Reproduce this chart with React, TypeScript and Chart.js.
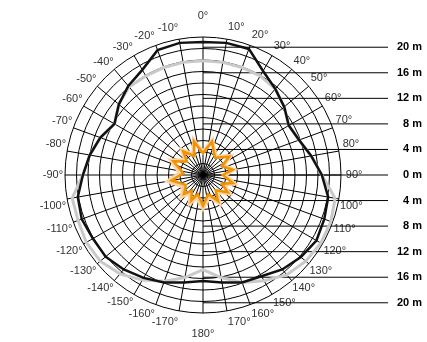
import React, { useEffect, useRef } from 'react';
import { Chart, registerables } from 'chart.js';

Chart.register(...registerables);

// ---- categories: directions every 5° (labels shown every 10°) ----
const ANGLE_STEP = 5;
const ANGLES: number[] = [];
for (let a = 0; a < 360; a += ANGLE_STEP) ANGLES.push(a > 180 ? a - 360 : a);
const ANGLE_LABELS = ANGLES.map((a) => `${a}°`);

// ---- series (metres) ----
const MAIN_ANGLES = [0, 10, 20, 30, 40, 50, 60, 70, 80, 90, 100, 110, 120, 130, 140, 150, 160, 170, 180,
  -170, -160, -150, -140, -130, -120, -110, -100, -90, -80, -70, -60, -50, -40, -30, -20, -10];
const BLACK_VALUES = [20.8, 21.0, 21.0, 18.8, 17.6, 16.6, 15.5, 16.0, 17.2, 18.6, 19.9, 20.2, 20.5, 20.0, 19.3, 18.3, 17.9, 17.1, 16.6,
  17.1, 17.9, 18.6, 19.3, 19.9, 19.9, 20.2, 19.9, 18.8, 18.0, 17.1, 16.0, 17.2, 18.2, 19.0, 20.8, 21.0];
const GRAY_VALUES = [17.9, 17.9, 17.9, 17.9, 17.6, 16.6, 15.5, 16.0, 17.2, 18.6, 21.0, 21.3, 21.3, 21.0, 20.4, 19.1, 17.9, 16.3, 14.8,
  16.3, 17.7, 19.0, 20.2, 21.0, 21.1, 20.8, 20.8, 18.8, 18.0, 17.1, 16.0, 17.2, 18.0, 17.9, 17.9, 17.9];

const STAR_ANGLES = [0, 15, 35, 55, 65, 80, 90, 105, 115, 125, 140, 150, 165, 180,
  -165, -155, -145, -135, -120, -100, -85, -65, -50, -40, -25, -15];
const ORANGE_VALUES = [3.4, 5.4, 3.3, 5.0, 3.3, 4.7, 3.1, 4.8, 3.3, 4.7, 3.1, 4.7, 3.1, 4.8,
  3.1, 4.4, 3.0, 4.2, 3.1, 5.0, 3.1, 5.1, 3.3, 4.8, 3.3, 5.4];
const PALE_ORANGE_VALUES = [3.6, 5.6, 3.5, 5.2, 3.5, 4.9, 3.4, 5.1, 3.6, 5.0, 3.5, 5.1, 3.5, 5.2,
  3.6, 4.9, 3.5, 4.7, 3.6, 5.5, 3.6, 5.5, 3.6, 5.1, 3.5, 5.6];

// ---- range scale on the right ----
const RANGE_VALUES = [20, 16, 12, 8, 4, 0, -4, -8, -12, -16, -20];
const RANGE_LABELS = ['20 m', '16 m', '12 m', '8 m', '4 m', '0 m', '4 m', '8 m', '12 m', '16 m', '20 m'];
const SCALE_MAX = 21.6;
const RING_STEP = 1.8;

// ---- layout ----
const W = 427;
const H = 342;
const CX = 203;
const CY = 176;
const R = 139;
const LINE_END_X = 388;
const LABEL_RIGHT_X = 422;
const LABEL_RADIUS_AXIS = 160;
const LABEL_RADIUS = 152.5;
const FONT = '"Liberation Sans", Arial, Helvetica, sans-serif';

function toSeries(angles: number[], values: number[]) {
  const arr: (number | null)[] = new Array(ANGLES.length).fill(null);
  angles.forEach((a, k) => {
    const idx = (((a % 360) + 360) % 360) / ANGLE_STEP;
    arr[idx] = values[k];
  });
  return arr;
}

function labelPadding(c: any) {
  const i = c.index;
  const deg = ANGLES[i];
  const a = (deg * Math.PI) / 180;
  const target = deg % 180 === 0 ? LABEL_RADIUS_AXIS : LABEL_RADIUS;
  const w = ANGLE_LABELS[i].length * 5.8;
  const h = 13.2;
  return Math.max(1, target - R - (w / 2) * Math.abs(Math.sin(a)) - (h / 2) * Math.abs(Math.cos(a)));
}

const rangePlugin = {
  id: 'rangeLines',
  beforeDatasetsDraw(chart: any) {
    const s = chart.scales.r;
    const ctx = chart.ctx;
    ctx.save();
    ctx.strokeStyle = '#000';
    ctx.lineWidth = 1;
    RANGE_VALUES.forEach((v) => {
      const y = s.yCenter - Math.sign(v) * s.getDistanceFromCenterForValue(Math.abs(v));
      ctx.beginPath();
      ctx.moveTo(s.xCenter, y);
      ctx.lineTo(LINE_END_X, y);
      ctx.stroke();
    });
    ctx.restore();
  },
  afterDraw(chart: any) {
    const s = chart.scales.r;
    const ctx = chart.ctx;
    ctx.save();
    ctx.fillStyle = '#000';
    ctx.font = `bold 11px ${FONT}`;
    ctx.textAlign = 'right';
    ctx.textBaseline = 'middle';
    RANGE_VALUES.forEach((v, i) => {
      const y = s.yCenter - Math.sign(v) * s.getDistanceFromCenterForValue(Math.abs(v));
      ctx.fillText(RANGE_LABELS[i], LABEL_RIGHT_X, y);
    });
    ctx.restore();
  },
};

export default function App() {
  const ref = useRef<HTMLCanvasElement | null>(null);

  useEffect(() => {
    if (!ref.current) return;
    const chart = new Chart(ref.current, {
      type: 'radar',
      data: {
        labels: ANGLE_LABELS,
        datasets: [
          {
            label: 'max',
            data: toSeries(MAIN_ANGLES, BLACK_VALUES),
            borderColor: '#111',
            borderWidth: 2.5,
            fill: false,
            spanGaps: true,
            order: 0,
          },
          {
            label: 'typ',
            data: toSeries(MAIN_ANGLES, GRAY_VALUES),
            borderColor: '#c9c9c9',
            borderWidth: 3,
            fill: false,
            spanGaps: true,
            order: 1,
          },
          {
            label: 'near',
            data: toSeries(STAR_ANGLES, ORANGE_VALUES),
            borderColor: '#f39200',
            borderWidth: 2.5,
            fill: false,
            spanGaps: true,
            order: 2,
          },
          {
            label: 'near-2',
            data: toSeries(STAR_ANGLES, PALE_ORANGE_VALUES),
            borderColor: '#fcd3a1',
            borderWidth: 4,
            fill: false,
            spanGaps: true,
            order: 3,
          },
        ],
      },
      options: {
        responsive: false,
        animation: false,
        layout: { padding: { left: 0, right: 40, top: 0, bottom: 0 } },
        plugins: { legend: { display: false }, tooltip: { enabled: false } },
        elements: { point: { radius: 0, hoverRadius: 0 }, line: { tension: 0 } },
        scales: {
          r: {
            min: 0,
            max: SCALE_MAX,
            startAngle: 0,
            ticks: { display: false, stepSize: RING_STEP },
            grid: { circular: true, color: '#000', lineWidth: 1 },
            angleLines: {
              color: (c: any) => (c.index % 2 ? 'rgba(0,0,0,0)' : '#000'),
              lineWidth: (c: any) => (c.index % 2 ? 0 : 1),
            },
            pointLabels: {
              callback: (label: string, i: number) => (i % 2 ? '' : label),
              font: { family: FONT, size: 11 },
              color: '#333',
              padding: labelPadding,
            },
          },
        },
      },
      plugins: [rangePlugin],
    });

    // fit the polar area to the intended centre / radius
    let pad = { left: 0, right: 40, top: 0, bottom: 0 };
    for (let k = 0; k < 10; k++) {
      const s: any = chart.scales.r;
      const ex = CX - s.xCenter;
      const ey = CY - s.yCenter;
      const er = s.drawingArea - R;
      if (ex === 0 && ey === 0 && Math.abs(er) < 0.5) break;
      pad = {
        left: pad.left + ex + er,
        right: pad.right - ex + er,
        top: pad.top + ey + er,
        bottom: pad.bottom - ey + er,
      };
      (chart.options as any).layout.padding = pad;
      chart.update();
    }

    return () => chart.destroy();
  }, []);

  return (
    <div style={{ position: 'absolute', left: 0, top: 0, width: W, height: H, background: '#fff' }}>
      <canvas ref={ref} width={W} height={H} style={{ width: W, height: H }} />
    </div>
  );
}
